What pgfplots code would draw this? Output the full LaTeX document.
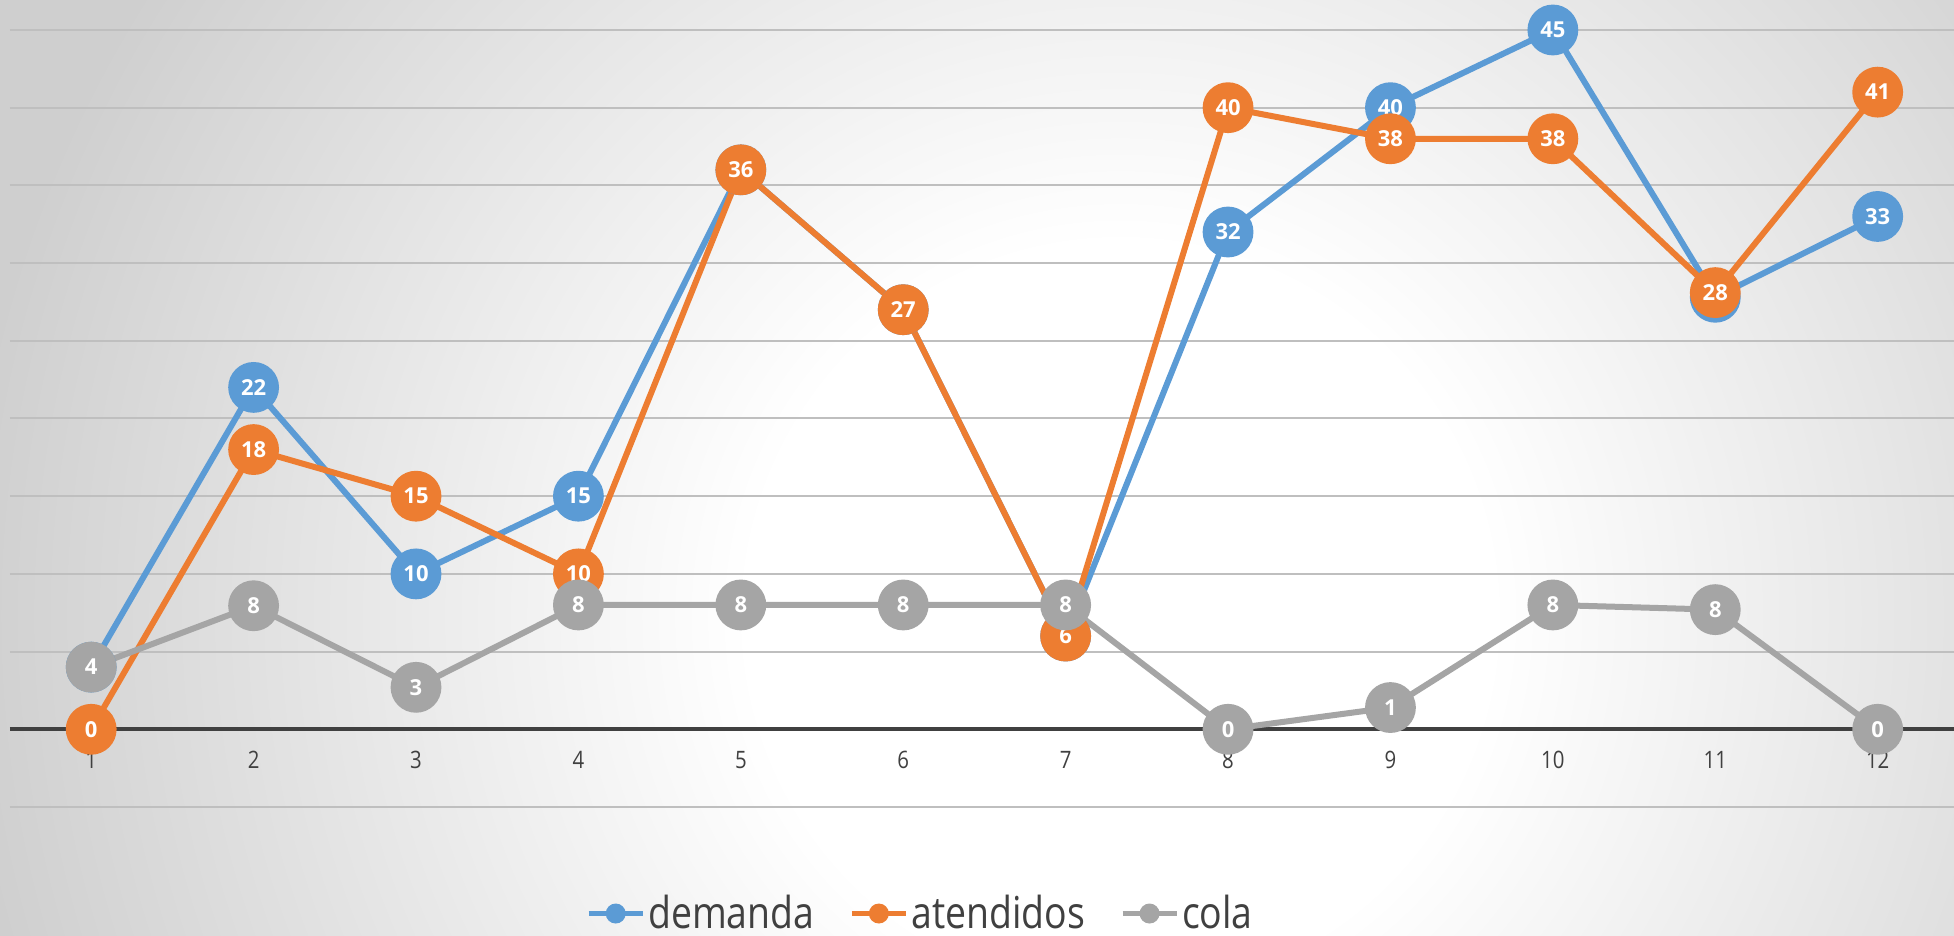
\documentclass[border=0pt]{standalone}
\usepackage{pgfplots}
\pgfplotsset{compat=1.18}
\usepackage{pgfplotstable}
\usepackage{fontspec}
\setmainfont[FakeStretch=0.85]{Open Sans}
\newfontfamily\lblfont{Open Sans}
\definecolor{cblue}{HTML}{5B9BD5}
\definecolor{corange}{HTML}{ED7D31}
\definecolor{cgray}{HTML}{A5A5A5}
\definecolor{ctext}{HTML}{404040}
\definecolor{bgout}{HTML}{CFCFCF}
\definecolor{cgrid}{HTML}{BFBFBF}
\pgfdeclareradialshading{bgshade}{\pgfpointorigin}{color(0bp)=(white); color(8bp)=(white); color(25bp)=(bgout); color(50bp)=(bgout)}
\pgfplotstableread{
x dem ate cola
1 4 0 4
2 22 18 7.95
3 10 15 2.7
4 15 10 8
5 36 36 8
6 27 27 8
7 6 6 8
8 32 40 0
9 40 38 1.4
10 45 38 8
11 27.8 28.1 7.7
12 33 41 0
}\data
\begin{document}
\begin{tikzpicture}
\begin{scope}
\clip (0,0) rectangle (977pt,468pt);
\fill[bgout] (0,0) rectangle (977pt,468pt);
\shade[shading=bgshade] (560pt,160pt) circle (580pt);
\end{scope}
\path[use as bounding box] (0,0) rectangle (977pt,468pt);
\begin{axis}[
 at={(5pt,64.5pt)}, anchor=south west,
 scale only axis, width=972pt, height=403.5pt,
 xmin=0.5, xmax=12.47, ymin=-5, ymax=46.93,
 clip=false,
 axis line style={draw=none},
 major tick length=0pt,
 xtick={1,2,3,4,5,6,7,8,9,10,11,12},
 ytick={-5,5,10,15,20,25,30,35,40,45},
 yticklabels={},
 ymajorgrids,
 grid style={draw=cgrid, line width=1pt},
 extra y ticks={0},
 extra y tick labels={},
 extra y tick style={grid style={draw=ctext, line width=2pt}},
 /pgf/number format/assume math mode=true,
 xticklabel style={font=\fontsize{12}{12}\selectfont, text=ctext, inner sep=0pt, anchor=north, yshift=28pt},
 nodes near coords={\pgfmathprintnumber[fixed,precision=0]{\pgfplotspointmeta}},
 every node near coord/.append style={anchor=center, font=\lblfont\bfseries\fontsize{11}{11}\selectfont, text=white, inner sep=0pt},
 legend columns=3,
 legend style={at={(0.4686,-0.132)}, anchor=center, draw=none, fill=none, font=\fontsize{22}{22}\selectfont, text=ctext, nodes={inner sep=1.5pt}, /tikz/every even column/.append style={column sep=16pt}},
 legend image code/.code={\draw[#1, mark=none, line width=2.5pt] (0pt,0pt) -- (27pt,0pt); \fill[#1, draw=none] (13.5pt,0pt) circle (5pt);},
]
\addplot[cblue, line width=3pt, mark=*, mark size=11.2pt, mark options={draw=none, fill=cblue}] table[x=x, y=dem] {\data};
\addlegendentry{demanda}
\addplot[corange, line width=3pt, mark=*, mark size=11.2pt, mark options={draw=none, fill=corange}] table[x=x, y=ate] {\data};
\addlegendentry{atendidos}
\addplot[cgray, line width=3pt, mark=*, mark size=11.2pt, mark options={draw=none, fill=cgray}] table[x=x, y=cola] {\data};
\addlegendentry{cola}
\end{axis}
\end{tikzpicture}
\end{document}
